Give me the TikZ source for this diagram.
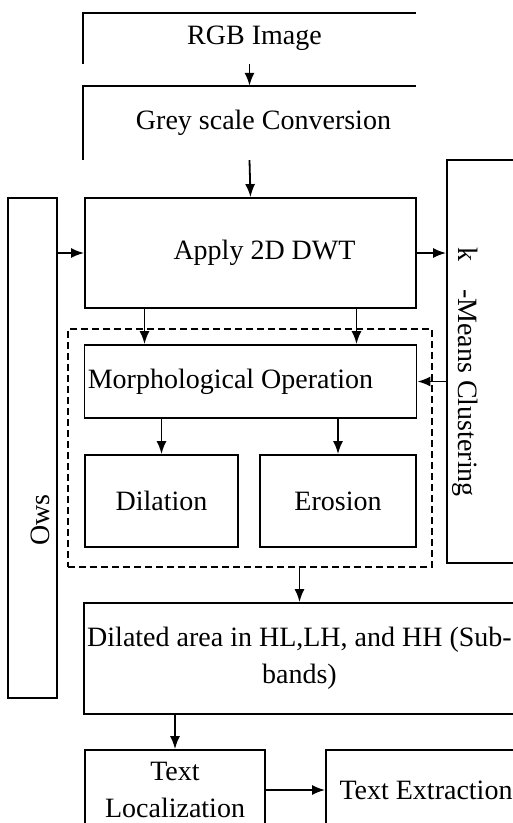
\documentclass[tikz,border=0pt]{standalone}
\usepackage{fontspec}
\setmainfont{Liberation Serif}
\usetikzlibrary{positioning, arrows.meta, calc}

\tikzset{
	procBox/.style={rectangle, draw, line width=1.8pt, text centered, align=center},
	openBox/.style={rectangle, text centered, align=center},
	groupBox/.style={rectangle, draw, line width=1.8pt, dash pattern=on 7pt off 4pt},
	link/.style={line width=1.8pt, -{Latex[length=13pt,width=10pt]}}
}

\begin{document}
\begin{tikzpicture}[x=1pt, y=-1pt, font=\fontsize{28}{37}\selectfont]
			
			\useasboundingbox (0,0) rectangle (513,823);
			\clip (0,0) rectangle (513,823);
			
			%Nodes
			\node (rgbImage) at (249.5,38.5) [openBox, minimum width=333pt, minimum height=51pt] {\hspace*{10pt}RGB Image};
			
			\node (greyConversion) at (249.5,123) [openBox, minimum width=333pt, minimum height=74pt] 
			{\hspace*{28pt}Grey scale Conversion};
			
			\node (applyDWT) at (250.5,253) [procBox, minimum width=331pt, minimum height=110pt] {\hspace*{28pt}Apply 2D DWT};
			
			\node (ows) at (32.5,448) [procBox, minimum width=49pt, minimum height=500pt] {};
			\node (owsLabel) at (40,520) [rotate=90] {Ows};
			
			\node (kMeans) at (487,361.5) [procBox, minimum width=80pt, minimum height=403pt] {};
			\node (kMeansLabel) at (465,372) [rotate=-90] {k\quad-Means Clustering};
			
			\node (morphGroup) at (250,448) [groupBox, minimum width=364pt, minimum height=238pt] {};
			
			\node (morphOp) at (250.5,381.5) [procBox, minimum width=331pt, minimum height=73pt] 
			{Morphological Operation\hspace*{40pt}};
			
			\node (dilation) at (161.5,501) [procBox, minimum width=153pt, minimum height=92pt] {Dilation};
			
			\node (erosion) at (338,501) [procBox, minimum width=156pt, minimum height=92pt] {Erosion};
			
			\node (dilatedArea) at (299.5,658.5) [procBox, minimum width=429pt, minimum height=111pt] 
			{Dilated area in HL,LH, and HH (Sub-\\bands)};
			
			\node (textLoc) at (175,790) [procBox, minimum width=180pt, minimum height=80pt] {Text\\Localization};
			
			\node (textExt) at (426,790) [procBox, minimum width=200pt, minimum height=80pt] {Text Extraction};
			
			%Open borders
			\draw [line width=1.8pt] (rgbImage.south west) |- (rgbImage.north east);
			\draw [line width=1.8pt] (greyConversion.south west) |- (greyConversion.north east);
			
			%Links
			\draw [link] (rgbImage.south) -- (greyConversion.north);
			\draw [link] (greyConversion.south) -- (applyDWT.north);
			\draw [link] (ows.east |- applyDWT.west) -- (applyDWT.west);
			\draw [link] (applyDWT.east) -- (applyDWT.east -| kMeans.west);
			\draw [link] ([xshift=-106pt]applyDWT.south) -- ([xshift=-106pt]morphOp.north);
			\draw [link] ([xshift=106pt]applyDWT.south) -- ([xshift=106pt]morphOp.north);
			\draw [link] (kMeans.west |- morphOp.east) -- (morphOp.east);
			\draw [link] (dilation.north |- morphOp.south) -- (dilation.north);
			\draw [link] (erosion.north |- morphOp.south) -- (erosion.north);
			\draw [link] (dilatedArea.north |- morphGroup.south) -- (dilatedArea.north);
			\draw [link] (textLoc.north |- dilatedArea.south) -- (textLoc.north);
			\draw [link] (textLoc.east) -- (textExt.west);
			
\end{tikzpicture}
\end{document}
